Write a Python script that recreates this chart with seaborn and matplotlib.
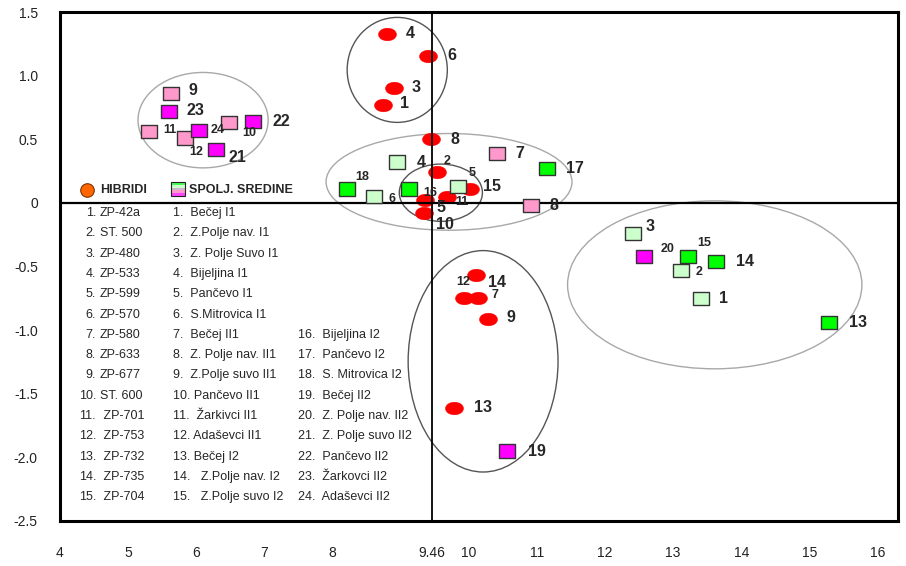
import pandas as pd
import matplotlib
matplotlib.use("Agg")
import matplotlib.pyplot as plt
import seaborn as sns
from matplotlib.path import Path
from matplotlib.patches import Ellipse, Rectangle

# --- data ---
hyb_id = list(range(1, 16))
hyb_x = [8.74, 9.53, 8.90, 8.80, 9.36, 9.40, 10.14, 9.45, 10.28, 9.34, 9.68, 9.93, 9.78, 10.11, 10.02]
hyb_y = [0.77, 0.24, 0.90, 1.33, 0.02, 1.155, -0.75, 0.50, -0.91, -0.08, 0.05, -0.75, -1.61, -0.57, 0.11]
hyb_names = ["ZP-42a", "ST. 500", "ZP-480", "ZP-533", "ZP-599", "ZP-570", "ZP-580", "ZP-633",
             "ZP-677", "ST. 600", " ZP-701", " ZP-753", " ZP-732", " ZP-735", " ZP-704"]

env_id = list(range(1, 25))
env_x = [13.41, 13.11, 12.41, 8.95, 9.84, 8.61, 10.41, 10.91, 5.63, 6.48, 5.31, 5.83,
         15.29, 13.63, 13.22, 9.12, 11.15, 8.21, 10.56, 12.57, 6.29, 6.83, 5.60, 6.04]
env_y = [-0.75, -0.53, -0.24, 0.32, 0.13, 0.05, 0.39, -0.02, 0.86, 0.63, 0.56, 0.51,
         -0.94, -0.46, -0.42, 0.11, 0.27, 0.11, -1.95, -0.42, 0.42, 0.64, 0.72, 0.57]
env_group = ["I1"] * 6 + ["II1"] * 6 + ["I2"] * 6 + ["II2"] * 6
env_names = ["Bečej I1", "Z.Polje nav. I1", "Z. Polje Suvo I1", "Bijeljina I1", "Pančevo I1",
             "S.Mitrovica I1", "Bečej II1", "Z. Polje nav. II1", "Z.Polje suvo II1", "Pančevo II1",
             " Žarkivci II1", "Adaševci II1", "Bečej I2", " Z.Polje nav. I2", " Z.Polje suvo I2",
             "Bijeljina I2", "Pančevo I2", "S. Mitrovica I2", "Bečej II2", "Z. Polje nav. II2",
             "Z. Polje suvo II2", "Pančevo II2", "Žarkovci II2", "Adaševci II2"]

# cluster ellipses (centre, width, height in data units)
ell_cx = [6.10, 8.95, 9.71, 9.59, 13.61, 10.21]
ell_cy = [0.65, 1.045, 0.165, 0.08, -0.644, -1.245]
ell_w = [1.91, 1.47, 3.61, 1.22, 4.32, 2.20]
ell_h = [0.75, 0.825, 0.76, 0.45, 1.32, 1.74]

x_mean = 9.46
x_ticks = [4, 5, 6, 7, 8, 9.46, 10, 11, 12, 13, 14, 15, 16]
y_ticks = [1.5, 1.0, 0.5, 0, -0.5, -1.0, -1.5, -2.0, -2.5]
y_tick_labels = ["1.5", "1.0", "0.5", "0", "-0.5", "-1.0", "-1.5", "-2.0", "-2.5"]

# --- styling / layout ---
env_palette = {"I1": "#CCFFCC", "II1": "#FF99CC", "I2": "#00FF00", "II2": "#FF00FF"}
ell_colors = ["#a8a8a8", "#555555", "#a8a8a8", "#555555", "#a8a8a8", "#555555"]

# label offsets in pixels (dx right, dy down)
hyb_label_offset = {1: (22, -1), 2: (10, -11), 3: (22, -1), 4: (23, 0), 5: (16, 7), 6: (24, 0),
                    7: (17, -3), 8: (24, 0), 9: (23, -1), 10: (21, 11), 11: (15, 5), 12: (-1, -16),
                    13: (29, 0), 14: (21, 7), 15: (22, -2)}
hyb_small = {2, 7, 11, 12}
env_label_offset = {1: (22, 0), 2: (18, 2), 3: (17, -7), 4: (24, 0), 5: (14, -13), 6: (18, 2),
                    7: (23, 0), 8: (23, 0), 9: (22, -3), 10: (20, 10), 11: (21, -2), 12: (12, 14),
                    13: (29, 0), 14: (29, 0), 15: (16, -13), 16: (21, 4), 17: (28, 0), 18: (15, -12),
                    19: (30, 0), 20: (24, -7), 21: (21, 8), 22: (29, 0), 23: (26, -1), 24: (19, 0)}
env_small = {2, 5, 6, 10, 11, 12, 15, 16, 18, 20, 24}

sns.set_style("white")
plt.rcParams['font.family'] = ['Liberation Sans', 'DejaVu Sans']

W, H = 906, 566
fig = plt.figure(figsize=(W / 100, H / 100), dpi=100)
AX_L, AX_R, AX_T, AX_B = 60, 898, 12, 521
ax = fig.add_axes([AX_L / W, 1 - AX_B / H, (AX_R - AX_L) / W, (AX_B - AX_T) / H])


def px(x, y):
    """pixel position -> axes fraction"""
    return (x - AX_L) / (AX_R - AX_L), (AX_B - y) / (AX_B - AX_T)


df_hyb = pd.DataFrame({"id": hyb_id, "x": hyb_x, "y": hyb_y})
df_env = pd.DataFrame({"id": env_id, "x": env_x, "y": env_y, "group": env_group})

# marker shapes: flat ellipse for hybrids, slightly wide square for environments
circ = Path.unit_circle()
ellipse_marker = Path(circ.vertices * [1.0, 0.7], circ.codes)
rect_marker = Path([(-0.6, -0.5), (0.6, -0.5), (0.6, 0.5), (-0.6, 0.5), (-0.6, -0.5)],
                   [Path.MOVETO, Path.LINETO, Path.LINETO, Path.LINETO, Path.CLOSEPOLY])

for cx, cy, w, h, c in zip(ell_cx, ell_cy, ell_w, ell_h, ell_colors):
    ax.add_patch(Ellipse((cx, cy), w, h, fill=False, edgecolor=c, linewidth=1.0, zorder=1))

ax.axhline(0, color="black", linewidth=1.6, zorder=3)
ax.axvline(x_mean, color="black", linewidth=1.3, zorder=3)

sns.scatterplot(data=df_hyb, x="x", y="y", marker=ellipse_marker, s=170, color="#FF0000",
                edgecolor="#FF0000", linewidth=0.3, legend=False, ax=ax, zorder=2)
sns.scatterplot(data=df_env, x="x", y="y", hue="group", palette=env_palette, marker=rect_marker,
                s=133, edgecolor="#333333", linewidth=1.0, legend=False, ax=ax, zorder=4)

for i, x, y in zip(hyb_id, hyb_x, hyb_y):
    dx, dy = hyb_label_offset[i]
    small = i in hyb_small
    ax.annotate(str(i), (x, y), xytext=(dx, -dy), textcoords="offset pixels",
                ha="center", va="center", fontsize=9 if small else 11.5,
                fontweight="bold", zorder=5)
for i, x, y in zip(env_id, env_x, env_y):
    dx, dy = env_label_offset[i]
    small = i in env_small
    ax.annotate(str(i), (x, y), xytext=(dx, -dy), textcoords="offset pixels",
                ha="center", va="center", fontsize=9 if small else 11.5,
                fontweight="bold", zorder=5)

# legend header
ax.scatter(*px(87, 190), s=95, color="#FF6600", edgecolor="#7a3300", linewidth=0.8,
           transform=ax.transAxes, clip_on=False, zorder=6)
ax.text(*px(100, 190), "HIBRIDI", transform=ax.transAxes, ha="left", va="center",
        fontsize=9, fontweight="bold")
stripes = ["#44FF55", "#CCFFCC", "#C8B8C8", "#FF99CC", "#FF44FF"]
sq_x0, sq_y0, sq = 171, 182, 14
for k, c in enumerate(stripes):
    x0, y0 = px(sq_x0, sq_y0 + (k + 1) * sq / len(stripes))
    x1, y1 = px(sq_x0 + sq, sq_y0 + k * sq / len(stripes))
    ax.add_patch(Rectangle((x0, y0), x1 - x0, y1 - y0, transform=ax.transAxes,
                           facecolor=c, edgecolor="none", zorder=6))
x0, y0 = px(sq_x0, sq_y0 + sq)
x1, y1 = px(sq_x0 + sq, sq_y0)
ax.add_patch(Rectangle((x0, y0), x1 - x0, y1 - y0, transform=ax.transAxes,
                       facecolor="none", edgecolor="#222222", linewidth=0.8, zorder=7))
ax.text(*px(189, 190), "SPOLJ. SREDINE", transform=ax.transAxes, ha="left", va="center",
        fontsize=9, fontweight="bold")

# legend lists
row0, row_h = 213, 20.3
for k, name in enumerate(hyb_names):
    ry = row0 + k * row_h
    ax.text(*px(96, ry), f"{k + 1}.", transform=ax.transAxes, ha="right", va="center", fontsize=9)
    ax.text(*px(100, ry), name, transform=ax.transAxes, ha="left", va="center", fontsize=9)
for k, name in enumerate(env_names):
    num = k + 1
    sep = "  " if num < 10 or num >= 14 else " "
    if k < 15:
        tx, ry = 173, row0 + k * row_h
    else:
        tx, ry = 298, row0 + (k - 9) * row_h
    ax.text(*px(tx, ry), f"{num}.{sep}{name}", transform=ax.transAxes, ha="left", va="center",
            fontsize=9)

ax.set_xlim(4, 16.3)
ax.set_ylim(-2.5, 1.5)
ax.set_xticks(x_ticks)
ax.set_xticklabels([f"{t:g}" for t in x_ticks])
ax.set_yticks(y_ticks)
ax.set_yticklabels(y_tick_labels)
ax.tick_params(axis="both", length=0, labelsize=10, colors="#222222")
ax.tick_params(axis="x", pad=18)
ax.tick_params(axis="y", pad=16)
ax.set_xlabel("")
ax.set_ylabel("")
for sp in ax.spines.values():
    sp.set_linewidth(2.2)
    sp.set_color("black")
ax.grid(False)

fig.savefig("out.png", dpi=100)
